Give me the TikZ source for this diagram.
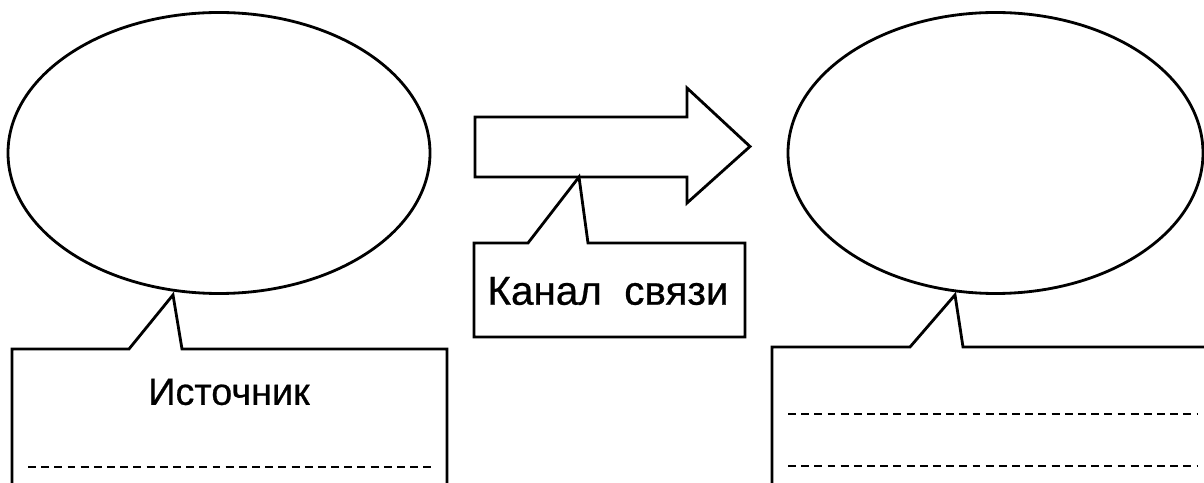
\documentclass[tikz,border=0pt]{standalone}
\usepackage{fontspec}
\setmainfont{Liberation Sans}
\usetikzlibrary{shapes.geometric, positioning}

\begin{document}
\begin{tikzpicture}[
    line width=1.6pt, line join=miter,
    bubble/.style={draw, ellipse, inner sep=0pt},
    callout/.style={draw, fill=white},
    rule/.style={dashed, dash pattern=on 4.5pt off 3pt, line width=1.3pt},
    caption/.style={font=\addfontfeature{FakeBold=0.6}},
  ]
    % Frame of the picture (the boxes run past the bottom and the right)
    \clip (0,0) rectangle (24.08,9.64);

    % Ellipses
    \node[bubble, minimum width=8.44cm, minimum height=5.62cm] (source) at (4.38,6.58) {};
    \node[bubble, minimum width=8.30cm, minimum height=5.62cm] (receiver) at (19.91,6.58) {};

    % Arrow of the channel
    \coordinate (arrowtip) at (15.00,6.71);
    \coordinate (chantip) at (11.58,6.10);
    \draw (9.50,7.30) -- (13.74,7.30) -- (13.74,7.88) -- (arrowtip)
        -- (13.74,5.58) -- (13.74,6.10) -- (chantip) -- (9.50,6.10) -- cycle;

    % Callout: source
    \draw[callout] (source.south) ++(-0.92,0) coordinate (srctip)
        (0.24,-0.2) -- (0.24,2.66) -- (2.58,2.66) -- (srctip) -- (3.64,2.66)
        -- (8.94,2.66) -- (8.94,-0.2);
    \node[caption] (srclabel) at (4.58,1.80) {\fontsize{21.5pt}{25pt}\selectfont Источник};
    \draw[rule] (0.56,0.30) -- (8.70,0.30);

    % Callout: channel
    \draw[callout] (9.48,2.90) -- (9.48,4.78) -- (10.56,4.78) -- (chantip)
        -- (11.76,4.78) -- (14.90,4.78) -- (14.90,2.90) -- cycle;
    \node[caption] (chanlabel) at (12.16,3.82) {\fontsize{23pt}{27pt}\selectfont Канал\ \ связи};

    % Callout: receiver
    \draw[callout] (receiver.south) ++(-0.81,0) coordinate (rectip)
        (15.44,-0.2) -- (15.44,2.70) -- (18.20,2.70) -- (rectip) -- (19.26,2.70)
        -- (24.30,2.70);
    \foreach \y in {1.36, 0.32} {
        \draw[rule] (15.76,\y) -- (23.96,\y);
    }
\end{tikzpicture}
\end{document}
